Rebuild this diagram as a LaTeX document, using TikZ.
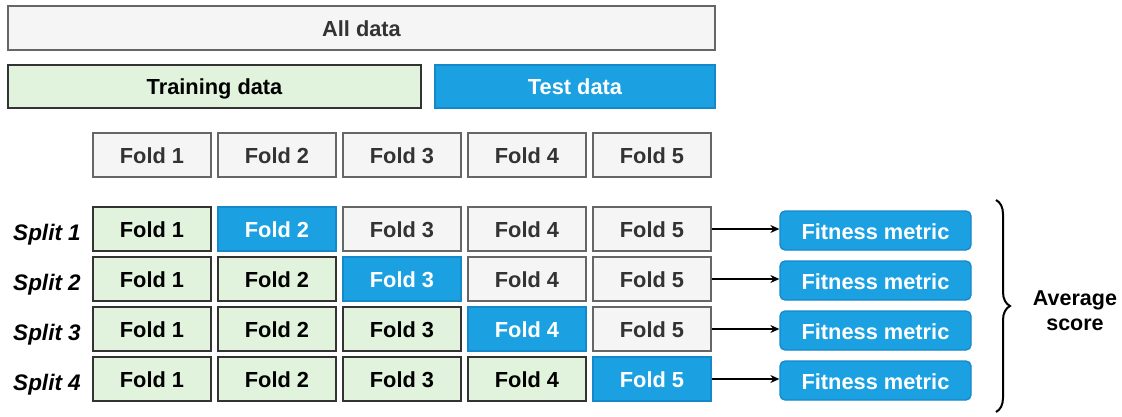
\documentclass[tikz,border=0pt]{standalone}
\usepackage{fontspec}
\setmainfont{Liberation Sans}
\usetikzlibrary{arrows.meta,decorations.pathreplacing}
\definecolor{greyfill}{HTML}{F5F5F5}
\definecolor{greyline}{HTML}{666666}
\definecolor{greytext}{HTML}{333333}
\definecolor{trainfill}{HTML}{E1F3DD}
\definecolor{trainline}{HTML}{333333}
\definecolor{testfill}{HTML}{1BA1E2}
\definecolor{testline}{HTML}{1488C8}
\begin{document}
\begin{tikzpicture}[x=1pt,y=-1pt,
  box/.style={draw, line width=1.3pt, minimum width=118pt, minimum height=44pt,
    inner sep=0pt, text height=17pt, text depth=0pt,
    font=\fontsize{21.8}{26}\selectfont\bfseries},
  grey/.style={box, fill=greyfill, draw=greyline, text=greytext},
  train/.style={box, fill=trainfill, draw=trainline, text=black},
  test/.style={box, fill=testfill, draw=testline, text=white},
  fitbox/.style={test, rounded corners=5pt, minimum width=191pt, minimum height=39pt},
  splitlabel/.style={font=\fontsize{22.5}{26}\selectfont\bfseries\itshape, inner sep=0pt,
    text height=22pt, text depth=0pt},
  link/.style={line width=1.2pt, -{Stealth[length=9pt,width=8pt]}}]
\useasboundingbox (0,0) rectangle (1122,417);

% whole data set and its train/test partition
\node[grey, minimum width=707pt] (all) at (361.5,28) {All data};
\node[train, minimum width=413pt, minimum height=43pt] (traindata) at (214.5,86.5) {Training data};
\node[test, minimum width=280pt, minimum height=43pt] (testdata) at (575,86.5) {Test data};

% the five folds
\foreach \j in {1,...,5}{
  \node[grey] (h\j) at ({27+125*\j},155) {Fold \j};
}

% one row per split: earlier folds train, one fold tests, later folds idle
\foreach \i in {1,...,4}{
  \pgfmathtruncatemacro\ii{\i+1}
  \pgfmathsetmacro\ry{179+50*\i}
  \node[splitlabel] (s\i) at (47,\ry) {Split \i};
  \foreach \j in {1,...,5}{
    \ifnum\j<\ii
      \node[train] (r\i c\j) at ({27+125*\j},\ry) {Fold \j};
    \else\ifnum\j=\ii
      \node[test] (r\i c\j) at ({27+125*\j},\ry) {Fold \j};
    \else
      \node[grey] (r\i c\j) at ({27+125*\j},\ry) {Fold \j};
    \fi\fi
  }
  \node[fitbox] (fit\i) at (875.5,{\ry+1.5}) {Fitness metric};
  \draw[link] (r\i c5.east) -- (r\i c5.east -| fit\i.west);
}

% averaging brace
\coordinate (bt) at (996,200);
\coordinate (bb) at (996,412);
\draw[line width=2pt, decorate, decoration={brace, amplitude=14pt}] (bt) -- (bb);
\node[font=\fontsize{21.5}{25}\selectfont\bfseries, align=center] (avg) at (1075,311) {Average\\score};
\end{tikzpicture}
\end{document}
